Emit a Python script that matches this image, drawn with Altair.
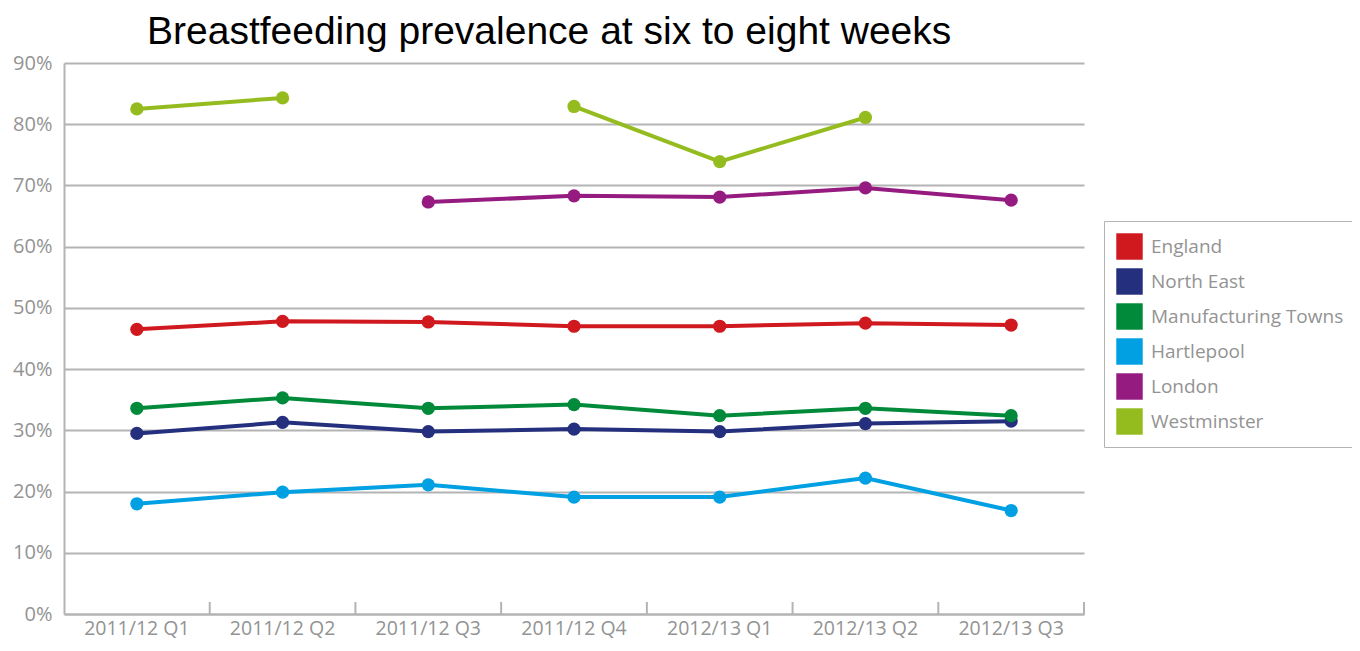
import altair as alt
import pandas as pd
import numpy as np

quarters = ["2011/12 Q1", "2011/12 Q2", "2011/12 Q3", "2011/12 Q4",
            "2012/13 Q1", "2012/13 Q2", "2012/13 Q3"]
series_names = ["England", "North East", "Manufacturing Towns",
                "Hartlepool", "London", "Westminster"]
series_colors = ["#d0191f", "#24307e", "#008a3a", "#00a0e3", "#951b80", "#95bc1f"]

england = [46.5, 47.8, 47.7, 47.0, 47.0, 47.5, 47.2]
north_east = [29.5, 31.3, 29.8, 30.2, 29.8, 31.1, 31.5]
manufacturing = [33.6, 35.3, 33.6, 34.2, 32.4, 33.6, 32.4]
hartlepool = [18.0, 19.9, 21.1, 19.1, 19.1, 22.2, 16.9]
london = [None, None, 67.3, 68.3, 68.1, 69.6, 67.6]
westminster = [82.5, 84.3, None, 82.9, 73.9, 81.1, None]

series_values = [england, north_east, manufacturing, hartlepool, london, westminster]

rows = []
for name, vals in zip(series_names, series_values):
    for q, v in zip(quarters, vals):
        rows.append({"quarter": q, "series": name,
                     "value": (np.nan if v is None else v)})
df = pd.DataFrame(rows)

W, H = 1020, 551
GRAY = "#b4b4b4"
LABEL = "#939393"
FONT = "Open Sans"

xenc = alt.X("quarter:N", sort=quarters, title=None,
             scale=alt.Scale(paddingInner=0, paddingOuter=0),
             axis=alt.Axis(labelAngle=0, ticks=False, labelPadding=5,
                           labelFontSize=19.5, labelColor=LABEL,
                           labelFont=FONT,
                           domainColor=GRAY, domainWidth=2, grid=False))
yenc = alt.Y("value:Q", title=None,
             scale=alt.Scale(domain=[0, 90], nice=False, zero=True),
             axis=alt.Axis(values=list(range(0, 100, 10)),
                           labelExpr="datum.value + '%'",
                           ticks=False, labelPadding=12, labelFontSize=20,
                           labelColor=LABEL, labelFont=FONT,
                           domainColor=GRAY, domainWidth=2,
                           grid=True, gridColor=GRAY, gridWidth=2))
color = alt.Color("series:N", title=None,
                  scale=alt.Scale(domain=series_names, range=series_colors),
                  legend=alt.Legend(orient="none", legendX=1040, legendY=158,
                                    symbolType="square", symbolSize=700,
                                    symbolStrokeWidth=0, symbolOpacity=1,
                                    labelFontSize=19, labelColor=LABEL,
                                    labelFont=FONT,
                                    labelOffset=8, rowPadding=8,
                                    padding=12, strokeColor=GRAY,
                                    labelLimit=300))

base = alt.Chart(df)

lines = base.mark_line(strokeWidth=4, invalid="break-paths-show-domains").encode(
    x=xenc, y=yenc, color=color, detail="series:N")
points = base.transform_filter("isValid(datum.value)").mark_circle(
    size=175, opacity=1).encode(x=xenc, y=yenc, color=alt.Color("series:N", legend=None,
                                scale=alt.Scale(domain=series_names, range=series_colors)))

tick_df = pd.DataFrame({"quarter": quarters})
ticks_start = alt.Chart(tick_df).transform_filter(
    alt.datum.quarter != quarters[0]).mark_rule(color=GRAY, strokeWidth=2).encode(
    x=alt.X("quarter:N", sort=quarters, bandPosition=0),
    y=alt.value(H - 12), y2=alt.value(H))
ticks_end = alt.Chart(tick_df).transform_filter(
    alt.datum.quarter == quarters[-1]).mark_rule(color=GRAY, strokeWidth=2).encode(
    x=alt.X("quarter:N", sort=quarters, bandPosition=1),
    y=alt.value(H - 12), y2=alt.value(H))

chart = alt.layer(lines, ticks_start, ticks_end, points).properties(
    width=W, height=H,
    title=alt.Title("Breastfeeding prevalence at six to eight weeks",
                    anchor="start", frame="group", dx=83, offset=1, fontSize=39,
                    font="Liberation Sans", fontWeight="normal", color="#000000"),
    autosize=alt.AutoSizeParams(type="none"),
    padding={"left": 56, "top": 55, "right": 268, "bottom": 29},
).configure_view(stroke=None)

chart.save("out.html", embed_options={"renderer": "svg", "actions": False})
